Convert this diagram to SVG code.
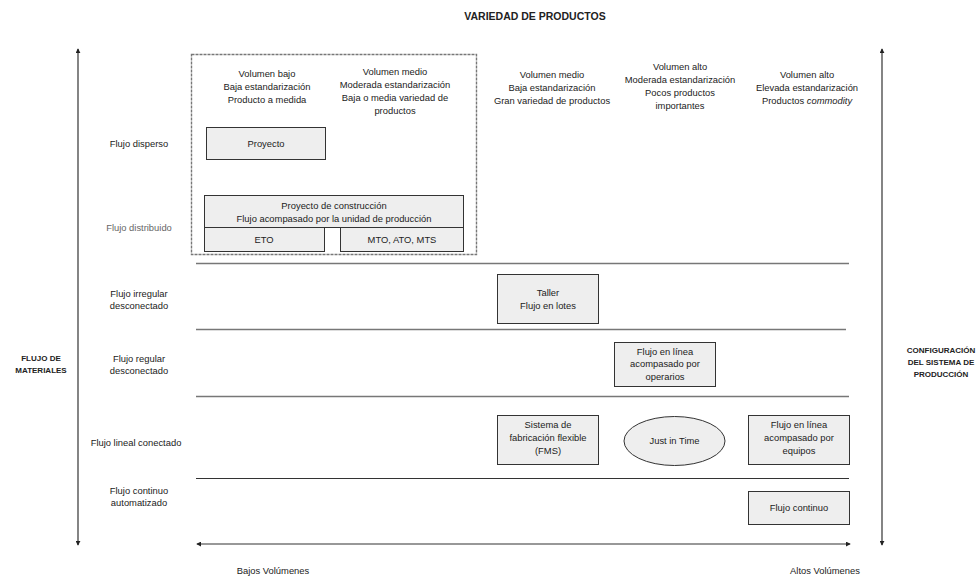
<svg xmlns="http://www.w3.org/2000/svg" width="979" height="578" viewBox="0 0 979 578">
  <style>
    text { font-family: "Liberation Sans", Arial, sans-serif; font-size: 9.4px; fill: #222; text-anchor: middle; }
    .bold { font-weight: bold; font-size: 8px; }
    .head { font-weight: bold; font-size: 10.5px; }
    .grey { fill: #666; }
    .box { fill: #eeeeee; stroke: #333; stroke-width: 1; }
    .sep { stroke: #777; stroke-width: 1.5; }
    .axis { stroke: #333; stroke-width: 1.2; fill: none; }
  </style>
  <defs>
    <marker id="arrow" viewBox="0 0 6 6" refX="5" refY="3" markerWidth="5" markerHeight="5" orient="auto-start-reverse" markerUnits="userSpaceOnUse">
      <path d="M0,0 L6,3 L0,6 Z" fill="#222"/>
    </marker>
  </defs>
  <rect width="979" height="578" fill="#fff"/>

  <!-- axes and row separators -->
  <g id="connectors">
    <line class="axis" x1="78" y1="49" x2="78" y2="545" marker-start="url(#arrow)" marker-end="url(#arrow)"/>
    <line class="axis" x1="882" y1="49" x2="882" y2="545" marker-start="url(#arrow)" marker-end="url(#arrow)"/>
    <line class="axis" x1="197" y1="544" x2="850" y2="544" marker-start="url(#arrow)" marker-end="url(#arrow)"/>
    <line class="sep" x1="196" y1="263.5" x2="849" y2="263.5"/>
    <line class="sep" x1="196" y1="329.5" x2="846" y2="329.5"/>
    <line class="sep" x1="196" y1="396.5" x2="849" y2="396.5"/>
    <line x1="196" y1="478.5" x2="849" y2="478.5" stroke="#333" stroke-width="1"/>
    <rect x="191.5" y="54.5" width="285" height="200" fill="none" stroke="#777" stroke-width="1.4" stroke-dasharray="3 1"/>
  </g>

  <!-- axis titles -->
  <g id="titles">
    <text class="head" x="535" y="20">VARIEDAD DE PRODUCTOS</text>
    <text class="bold" x="41" y="361">FLUJO DE</text>
    <text class="bold" x="41" y="373">MATERIALES</text>
    <text class="bold" x="941" y="353">CONFIGURACIÓN</text>
    <text class="bold" x="941" y="365">DEL SISTEMA DE</text>
    <text class="bold" x="941" y="377">PRODUCCIÓN</text>
    <text x="273" y="574">Bajos Volúmenes</text>
    <text x="825" y="574">Altos Volúmenes</text>
  </g>

  <!-- column headers -->
  <g id="col1">
    <text x="267" y="77">Volumen bajo</text>
    <text x="267" y="90">Baja estandarización</text>
    <text x="267" y="103">Producto a medida</text>
  </g>
  <g id="col2">
    <text x="395" y="75">Volumen medio</text>
    <text x="395" y="88">Moderada estandarización</text>
    <text x="395" y="101">Baja o media variedad de</text>
    <text x="395" y="114">productos</text>
  </g>
  <g id="col3">
    <text x="552" y="78">Volumen medio</text>
    <text x="552" y="91">Baja estandarización</text>
    <text x="552" y="104">Gran variedad de productos</text>
  </g>
  <g id="col4">
    <text x="680" y="70">Volumen alto</text>
    <text x="680" y="83">Moderada estandarización</text>
    <text x="680" y="96">Pocos productos</text>
    <text x="680" y="109">importantes</text>
  </g>
  <g id="col5">
    <text x="807" y="78">Volumen alto</text>
    <text x="807" y="91">Elevada estandarización</text>
    <text x="807" y="104">Productos <tspan font-style="italic">commodity</tspan></text>
  </g>

  <!-- row labels -->
  <g id="rows">
    <text x="139" y="147">Flujo disperso</text>
    <text class="grey" x="139" y="231">Flujo distribuido</text>
    <text x="139" y="297">Flujo irregular</text>
    <text x="139" y="309">desconectado</text>
    <text x="139" y="362">Flujo regular</text>
    <text x="139" y="374">desconectado</text>
    <text x="136" y="446">Flujo lineal conectado</text>
    <text x="139" y="494">Flujo continuo</text>
    <text x="139" y="506">automatizado</text>
  </g>

  <!-- production configurations -->
  <g id="proyecto">
    <rect class="box" x="206.5" y="127.5" width="119" height="32"/>
    <text x="266" y="147">Proyecto</text>
  </g>
  <g id="proyecto-construccion">
    <rect class="box" x="204.5" y="195.5" width="259" height="32"/>
    <text x="334" y="209">Proyecto de construcción</text>
    <text x="334" y="222">Flujo acompasado por la unidad de producción</text>
  </g>
  <g id="eto">
    <rect class="box" x="204.5" y="227.5" width="120" height="24"/>
    <text x="264" y="243">ETO</text>
  </g>
  <g id="mto-ato-mts">
    <rect class="box" x="340.5" y="227.5" width="123" height="24"/>
    <text x="402" y="243">MTO, ATO, MTS</text>
  </g>
  <g id="taller">
    <rect class="box" x="497.5" y="274.5" width="101" height="49"/>
    <text x="548" y="296">Taller</text>
    <text x="548" y="309">Flujo en lotes</text>
  </g>
  <g id="linea-operarios">
    <rect class="box" x="614.5" y="342.5" width="101" height="44"/>
    <text x="665" y="355">Flujo en línea</text>
    <text x="665" y="367">acompasado por</text>
    <text x="665" y="380">operarios</text>
  </g>
  <g id="fms">
    <rect class="box" x="497.5" y="415.5" width="101" height="49"/>
    <text x="548" y="428">Sistema de</text>
    <text x="548" y="441">fabricación flexible</text>
    <text x="548" y="454">(FMS)</text>
  </g>
  <g id="just-in-time">
    <ellipse cx="674.5" cy="441" rx="50.5" ry="24.5" fill="#eeeeee" stroke="#333" stroke-width="1"/>
    <text x="674.5" y="444">Just in Time</text>
  </g>
  <g id="linea-equipos">
    <rect class="box" x="748.5" y="415.5" width="101" height="49"/>
    <text x="799" y="428">Flujo en línea</text>
    <text x="799" y="441">acompasado por</text>
    <text x="799" y="454">equipos</text>
  </g>
  <g id="flujo-continuo">
    <rect class="box" x="748.5" y="491.5" width="101" height="33"/>
    <text x="799" y="511">Flujo continuo</text>
  </g>
</svg>
